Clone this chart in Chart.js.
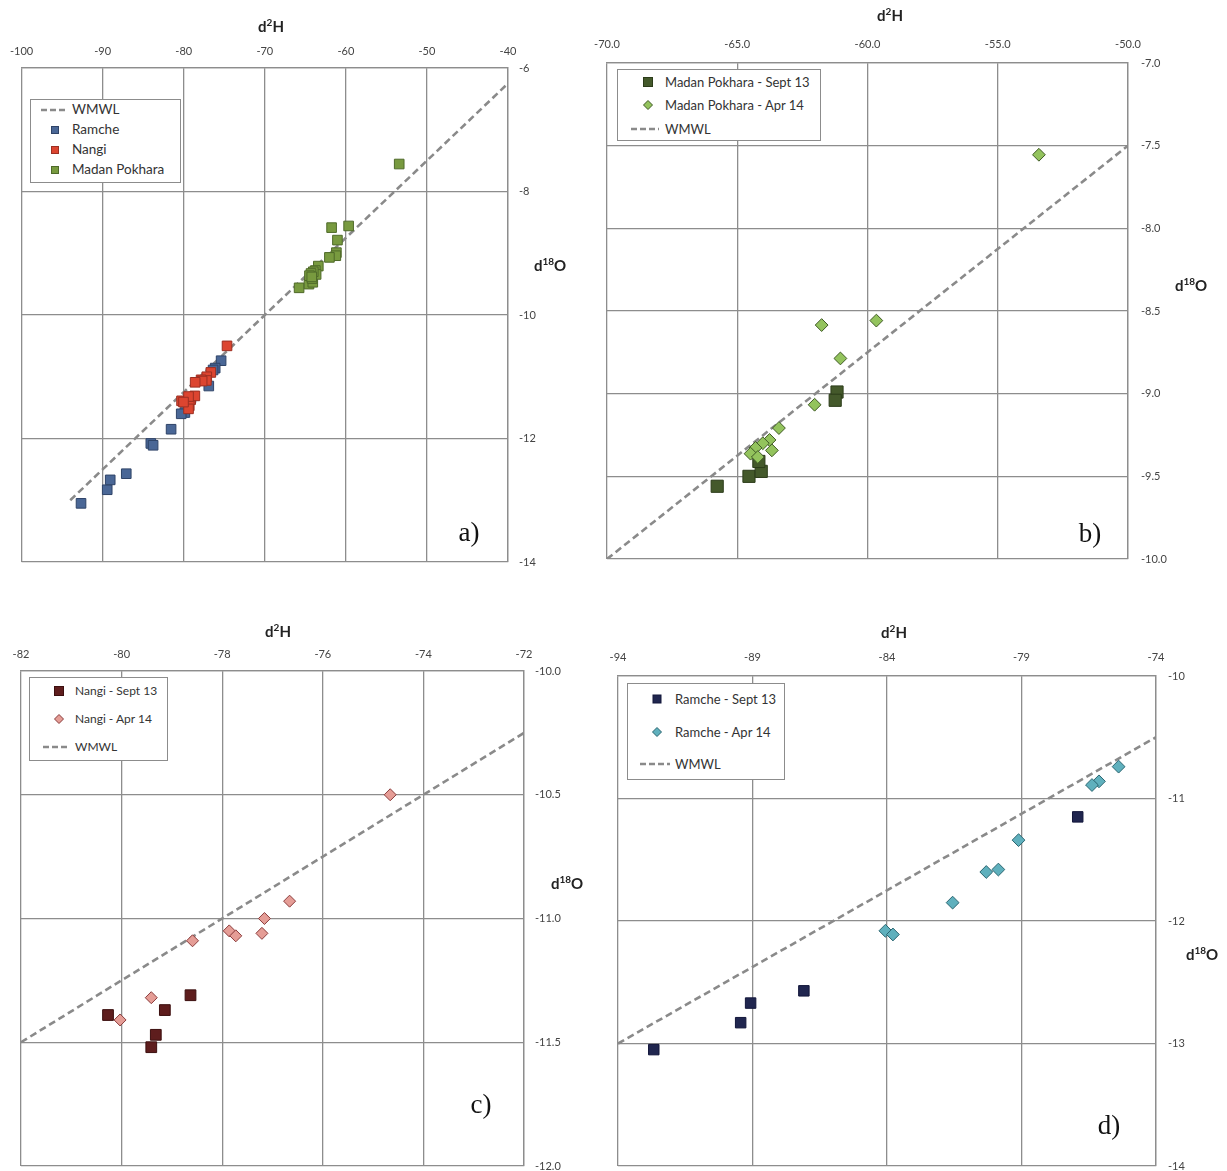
<!DOCTYPE html>
<html>
<head>
<meta charset="utf-8">
<script src="https://cdn.jsdelivr.net/npm/chart.js"></script>
<style>
html, body { margin: 0; padding: 0; overflow: hidden; background: #fff; }
#page { position: relative; width: 1227px; height: 1171px; overflow: hidden; font-family: Lato, "Open Sans", sans-serif; }
.panel { position: absolute; }
.axt { position: absolute; font-weight: bold; font-size: 15px; color: #222; white-space: nowrap; transform: translate(-50%, -50%); line-height: 1; }
.axt sup { font-size: 10px; vertical-align: 6px; line-height: 0; }
.lab { position: absolute; font-family: "Liberation Serif", serif; font-size: 27px; color: #111; transform: translate(-50%, -50%); line-height: 1; }
.legbox { position: absolute; border: 1px solid #8c8c8c; background: #fff; box-sizing: border-box; }
.legtxt { position: absolute; color: #333; white-space: nowrap; transform: translateY(-50%); line-height: 1; }
.legmark { position: absolute; overflow: visible; }
</style>
</head>
<body>
<div id="page">
  <canvas id="chartA" class="panel"></canvas>
  <canvas id="chartB" class="panel"></canvas>
  <canvas id="chartC" class="panel"></canvas>
  <canvas id="chartD" class="panel"></canvas>
</div>
<script>
// ---- data (d2H = x, d18O = y) ----
const ramSeptX = [-92.67, -89.44, -89.07, -87.09, -76.91];
const ramSeptY = [-13.05, -12.83, -12.67, -12.57, -11.15];
const ramAprX = [-75.39, -76.12, -76.38, -79.11, -79.86, -80.31, -81.56, -84.06, -83.78];
const ramAprY = [-10.74, -10.86, -10.89, -11.34, -11.58, -11.60, -11.85, -12.08, -12.11];

const nanSeptX = [-80.27, -79.14, -78.63, -79.32, -79.41];
const nanSeptY = [-11.39, -11.37, -11.31, -11.47, -11.52];
const nanAprX = [-74.66, -76.66, -77.16, -77.21, -77.86, -77.73, -78.59, -79.41, -80.03];
const nanAprY = [-10.50, -10.93, -11.00, -11.06, -11.05, -11.07, -11.09, -11.32, -11.41];

const madSeptX = [-65.77, -64.55, -64.08, -64.17, -61.17, -61.24];
const madSeptY = [-9.56, -9.50, -9.47, -9.41, -8.99, -9.04];
const madAprX = [-53.42, -61.76, -59.66, -61.04, -62.03, -63.40, -63.76, -63.67, -64.02, -64.30, -64.49, -64.21];
const madAprY = [-7.555, -8.585, -8.558, -8.787, -9.067, -9.208, -9.28, -9.343, -9.30, -9.328, -9.363, -9.383];

// WMWL end points as drawn in each panel
const wmwlAX = [-94, -40], wmwlAY = [-13, -6.25];
const wmwlBX = [-70, -50], wmwlBY = [-10, -7.5];
const wmwlCX = [-82, -72], wmwlCY = [-11.5, -10.25];
const wmwlDX = [-94, -74], wmwlDY = [-13, -10.5];

// tick values
const ticksAX = [-100, -90, -80, -70, -60, -50, -40];
const ticksAY = [-14, -12, -10, -8, -6];
const ticksBX = [-70, -65, -60, -55, -50];
const ticksBY = [-10, -9.5, -9, -8.5, -8, -7.5, -7];
const ticksCX = [-82, -80, -78, -76, -74, -72];
const ticksCY = [-12, -11.5, -11, -10.5, -10];
const ticksDX = [-94, -89, -84, -79, -74];
const ticksDY = [-14, -13, -12, -11, -10];

const namesA = ['WMWL', 'Ramche', 'Nangi', 'Madan Pokhara'];
const namesB = ['Madan Pokhara - Sept 13', 'Madan Pokhara - Apr 14', 'WMWL'];
const namesC = ['Nangi - Sept 13', 'Nangi - Apr 14', 'WMWL'];
const namesD = ['Ramche - Sept 13', 'Ramche - Apr 14', 'WMWL'];

// ---- helpers ----
const gridCol = '#8d8d8d';
const lineCol = '#8a8a8a';
const page = document.getElementById('page');

function pts(xs, ys) {
    return xs.map((x, i) => ({ x: x, y: ys[i] }));
}

function markers(xs, ys, style, r, fill, edge, order) {
    return {
        data: pts(xs, ys),
        pointStyle: style,
        pointRadius: r,
        pointHoverRadius: r,
        backgroundColor: fill,
        borderColor: edge,
        borderWidth: 1,
        showLine: false,
        order: order
    };
}

function wmwl(xs, ys) {
    return {
        data: pts(xs, ys),
        showLine: true,
        pointRadius: 0,
        borderColor: lineCol,
        borderWidth: 2.6,
        borderDash: [7, 4],
        fill: false,
        order: 10
    };
}

function makePanel(id, g, tx, ty, dec, datasets) {
    const cv = document.getElementById(id);
    cv.width = g.w;
    cv.height = g.h;
    cv.style.left = g.left + 'px';
    cv.style.top = g.top + 'px';
    const tickFont = { family: 'Lato', size: 11 };
    return new Chart(cv, {
        type: 'scatter',
        data: { datasets: datasets },
        options: {
            responsive: false,
            animation: false,
            events: [],
            layout: {
                autoPadding: false,
                padding: { left: g.plotL - g.left, top: 0, right: 0, bottom: g.top + g.h - g.plotB }
            },
            plugins: { legend: { display: false }, tooltip: { enabled: false } },
            scales: {
                x: {
                    type: 'linear', position: 'top',
                    min: tx[0], max: tx[tx.length - 1],
                    afterBuildTicks: s => { s.ticks = tx.map(v => ({ value: v })); },
                    afterFit: s => { s.height = g.plotT - g.top; },
                    grid: { color: gridCol, lineWidth: 1.3, drawTicks: false },
                    border: { color: gridCol, width: 1.3 },
                    ticks: { autoSkip: false, maxRotation: 0, padding: g.xpad, color: '#444', font: tickFont,
                             callback: v => v.toFixed(dec.x) }
                },
                y: {
                    type: 'linear', position: 'right',
                    min: ty[0], max: ty[ty.length - 1],
                    afterBuildTicks: s => { s.ticks = ty.map(v => ({ value: v })); },
                    afterFit: s => { s.width = g.left + g.w - g.plotR; },
                    grid: { color: gridCol, lineWidth: 1.3, drawTicks: false },
                    border: { color: gridCol, width: 1.3 },
                    ticks: { autoSkip: false, padding: g.ypad, color: '#444', font: tickFont,
                             callback: v => v.toFixed(dec.y) }
                }
            }
        }
    });
}

function addText(cls, html, x, y) {
    const d = document.createElement('div');
    d.className = cls;
    d.innerHTML = html;
    d.style.left = x + 'px';
    d.style.top = y + 'px';
    page.appendChild(d);
}

const svgNS = 'http://www.w3.org/2000/svg';
function addMark(kind, cx, cy, s, fill, edge) {
    const sv = document.createElementNS(svgNS, 'svg');
    sv.setAttribute('class', 'legmark');
    sv.setAttribute('width', 40);
    sv.setAttribute('height', 20);
    sv.style.left = (cx - 20) + 'px';
    sv.style.top = (cy - 10) + 'px';
    let el;
    if (kind === 'line') {
        el = document.createElementNS(svgNS, 'line');
        el.setAttribute('x1', 20 - s / 2); el.setAttribute('x2', 20 + s / 2);
        el.setAttribute('y1', 10); el.setAttribute('y2', 10);
        el.setAttribute('stroke', lineCol); el.setAttribute('stroke-width', 2.6);
        el.setAttribute('stroke-dasharray', '6 3');
    } else if (kind === 'square') {
        el = document.createElementNS(svgNS, 'rect');
        el.setAttribute('x', 20 - s / 2); el.setAttribute('y', 10 - s / 2);
        el.setAttribute('width', s); el.setAttribute('height', s);
        el.setAttribute('fill', fill); el.setAttribute('stroke', edge);
    } else {
        el = document.createElementNS(svgNS, 'polygon');
        const h = s / 2;
        el.setAttribute('points', (20 - h) + ',10 20,' + (10 - h) + ' ' + (20 + h) + ',10 20,' + (10 + h));
        el.setAttribute('fill', fill); el.setAttribute('stroke', edge);
    }
    sv.appendChild(el);
    page.appendChild(sv);
}

function addLegend(box, rows, names, fontSize) {
    const b = document.createElement('div');
    b.className = 'legbox';
    b.style.left = box.x + 'px'; b.style.top = box.y + 'px';
    b.style.width = box.w + 'px'; b.style.height = box.h + 'px';
    page.appendChild(b);
    rows.forEach((r, i) => {
        addMark(r.kind, r.kind === 'line' ? box.lineX : box.markX, r.y, r.kind === 'line' ? box.lineW : r.s, r.fill, r.edge);
        const t = document.createElement('div');
        t.className = 'legtxt';
        t.textContent = names[i];
        t.style.left = box.textX + 'px';
        t.style.top = r.y + 'px';
        t.style.fontSize = fontSize + 'px';
        page.appendChild(t);
    });
}

// colours
const cRam = ['#4a6796', '#2f4468'];
const cNan = ['#dc4530', '#9c2f22'];
const cMad = ['#789a3f', '#4f6a2a'];
const cMadSept = ['#44592b', '#2c3c1a'];
const cMadApr = ['#93c35d', '#3f5a25'];
const cNanSept = ['#5e1d1d', '#3c0f0f'];
const cNanApr = ['#e59d96', '#8a3b3b'];
const cRamSept = ['#20264f', '#12163a'];
const cRamApr = ['#5fb0bd', '#2a6570'];

// ---- panel a: all sites ----
makePanel('chartA',
    { left: 0, top: 0, w: 600, h: 600, plotL: 21, plotT: 68, plotR: 508, plotB: 562, xpad: 10, ypad: 11 },
    ticksAX, ticksAY, { x: 0, y: 0 },
    [
        markers(nanSeptX.concat(nanAprX), nanSeptY.concat(nanAprY), 'rect', 6.8, cNan[0], cNan[1], 1),
        markers(ramSeptX.concat(ramAprX), ramSeptY.concat(ramAprY), 'rect', 6.8, cRam[0], cRam[1], 2),
        markers(madSeptX.concat(madAprX), madSeptY.concat(madAprY), 'rect', 6.8, cMad[0], cMad[1], 3),
        wmwl(wmwlAX, wmwlAY)
    ]);

// ---- panel b: Madan Pokhara ----
makePanel('chartB',
    { left: 570, top: 0, w: 657, h: 600, plotL: 607, plotT: 63, plotR: 1128, plotB: 559, xpad: 12, ypad: 13 },
    ticksBX, ticksBY, { x: 1, y: 1 },
    [
        markers(madAprX, madAprY, 'rectRot', 6.4, cMadApr[0], cMadApr[1], 1),
        markers(madSeptX, madSeptY, 'rect', 8.6, cMadSept[0], cMadSept[1], 2),
        wmwl(wmwlBX, wmwlBY)
    ]);

// ---- panel c: Nangi ----
makePanel('chartC',
    { left: 0, top: 600, w: 600, h: 600, plotL: 21, plotT: 671, plotR: 524, plotB: 1166, xpad: 10, ypad: 11 },
    ticksCX, ticksCY, { x: 0, y: 1 },
    [
        markers(nanAprX, nanAprY, 'rectRot', 6, cNanApr[0], cNanApr[1], 1),
        markers(nanSeptX, nanSeptY, 'rect', 7.6, cNanSept[0], cNanSept[1], 2),
        wmwl(wmwlCX, wmwlCY)
    ]);

// ---- panel d: Ramche ----
makePanel('chartD',
    { left: 570, top: 600, w: 657, h: 600, plotL: 618, plotT: 676, plotR: 1156, plotB: 1166, xpad: 12, ypad: 12 },
    ticksDX, ticksDY, { x: 0, y: 0 },
    [
        markers(ramAprX, ramAprY, 'rectRot', 6.4, cRamApr[0], cRamApr[1], 1),
        markers(ramSeptX, ramSeptY, 'rect', 7.4, cRamSept[0], cRamSept[1], 2),
        wmwl(wmwlDX, wmwlDY)
    ]);

// axis titles and panel letters
addText('axt', 'd<sup>2</sup>H', 271, 26);
addText('axt', 'd<sup>18</sup>O', 550, 265);
addText('axt', 'd<sup>2</sup>H', 890, 15);
addText('axt', 'd<sup>18</sup>O', 1191, 285);
addText('axt', 'd<sup>2</sup>H', 278, 631);
addText('axt', 'd<sup>18</sup>O', 567, 883);
addText('axt', 'd<sup>2</sup>H', 894, 632);
addText('axt', 'd<sup>18</sup>O', 1202, 954);
addText('lab', 'a)', 469, 532);
addText('lab', 'b)', 1090, 533);
addText('lab', 'c)', 481, 1104);
addText('lab', 'd)', 1109, 1125);

// legends
addLegend({ x: 30, y: 99, w: 151, h: 84, lineX: 54, lineW: 26, markX: 55, textX: 72 }, [
    { kind: 'line', y: 110 },
    { kind: 'square', y: 130, s: 7, fill: cRam[0], edge: cRam[1] },
    { kind: 'square', y: 150, s: 7, fill: cNan[0], edge: cNan[1] },
    { kind: 'square', y: 170, s: 7, fill: cMad[0], edge: cMad[1] }
], namesA, 13.5);

addLegend({ x: 617, y: 69, w: 204, h: 72, lineX: 645, lineW: 28, markX: 648, textX: 665 }, [
    { kind: 'square', y: 82, s: 9, fill: cMadSept[0], edge: cMadSept[1] },
    { kind: 'diamond', y: 105, s: 9, fill: cMadApr[0], edge: cMadApr[1] },
    { kind: 'line', y: 129 }
], namesB, 13);

addLegend({ x: 29, y: 677, w: 139, h: 84, lineX: 56, lineW: 26, markX: 59, textX: 75 }, [
    { kind: 'square', y: 691, s: 9, fill: cNanSept[0], edge: cNanSept[1] },
    { kind: 'diamond', y: 719, s: 9, fill: cNanApr[0], edge: cNanApr[1] },
    { kind: 'line', y: 747 }
], namesC, 12);

addLegend({ x: 627, y: 683, w: 158, h: 97, lineX: 655, lineW: 30, markX: 657, textX: 675 }, [
    { kind: 'square', y: 699, s: 8, fill: cRamSept[0], edge: cRamSept[1] },
    { kind: 'diamond', y: 732, s: 9, fill: cRamApr[0], edge: cRamApr[1] },
    { kind: 'line', y: 764 }
], namesD, 13);
</script>
</body>
</html>
